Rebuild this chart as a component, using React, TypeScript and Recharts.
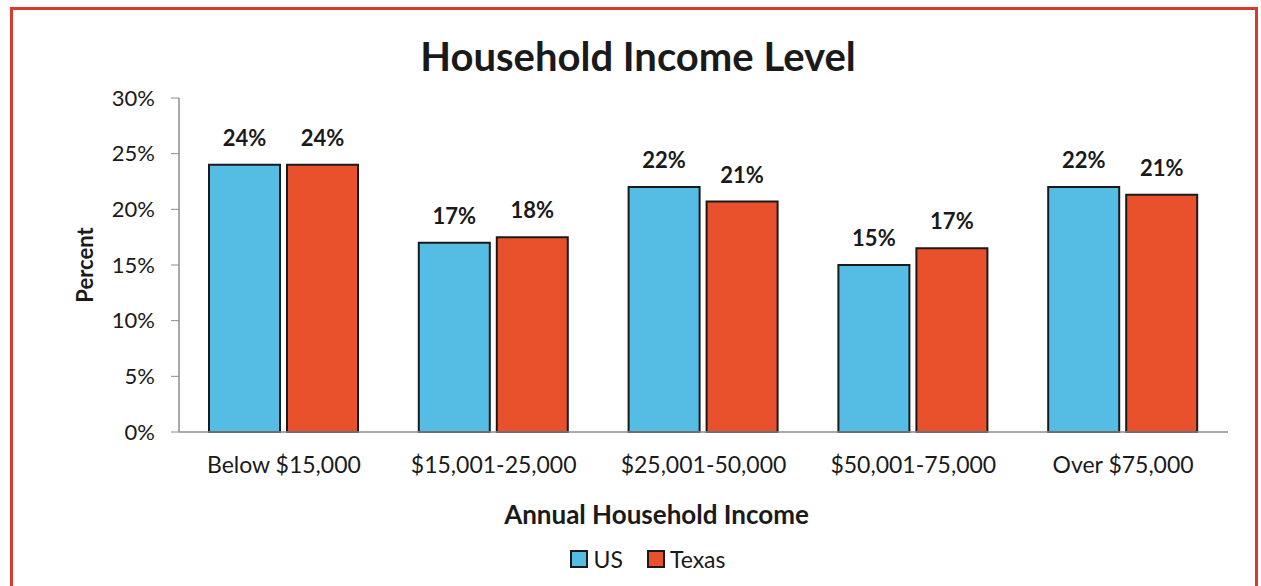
import { Bar, BarChart, LabelList, XAxis, YAxis } from 'recharts'

const categories = ['Below $15,000', '$15,001-25,000', '$25,001-50,000', '$50,001-75,000', 'Over $75,000']
const usValues = [24, 17, 22, 15, 22]
const texasValues = [24, 17.5, 20.7, 16.5, 21.3]
const yTicks = [0, 5, 10, 15, 20, 25, 30]

const US_COLOR = '#55bde4'
const TX_COLOR = '#e8512b'
const FONT = 'Lato, "Open Sans", sans-serif'

export default function App() {
  const data = categories.map((name, i) => ({
    name,
    US: usValues[i],
    Texas: texasValues[i],
  }))

  return (
    <div style={{ position: 'fixed', left: 0, top: 0, width: 1261, height: 586, background: '#fff', overflow: 'hidden', fontFamily: FONT }}>
      {/* red frame */}
      <div
        style={{
          position: 'absolute',
          left: 10,
          top: 7,
          width: 1242,
          height: 600,
          border: '3px solid #d93a2e',
        }}
      />
      <div
        style={{
          position: 'absolute',
          left: 0,
          width: 1276,
          top: 33,
          textAlign: 'center',
          fontSize: 40,
          fontWeight: 700,
          color: '#1a1a1a',
          lineHeight: '46px',
        }}
      >
        Household Income Level
      </div>

      <div style={{ position: 'absolute', left: 0, top: 0 }}>
        <BarChart
          width={1261}
          height={586}
          data={data}
          margin={{ top: 98, right: 33, left: 0, bottom: 0 }}
          barCategoryGap={30}
          barGap={7}
        >
          <XAxis
            dataKey="name"
            height={154}
            tickLine={false}
            axisLine={{ stroke: '#8c8c8c', strokeWidth: 1.5 }}
            tick={{ fontSize: 23, fill: '#1a1a1a', fontFamily: FONT }}
            tickMargin={19}
            interval={0}
            label={{
              value: 'Annual Household Income',
              position: 'center',
              dx: -47,
              dy: 6,
              style: { fontSize: 26, fontWeight: 700, fill: '#1a1a1a', fontFamily: FONT },
            }}
          />
          <YAxis
            width={179}
            domain={[0, 30]}
            ticks={yTicks}
            tickFormatter={(v: number) => `${v}%`}
            axisLine={{ stroke: '#8c8c8c', strokeWidth: 1.5 }}
            tickLine={{ stroke: '#8c8c8c' }}
            tickSize={8}
            tickMargin={16}
            tick={{ fontSize: 22, fill: '#1a1a1a', fontFamily: FONT }}
            label={{
              value: 'Percent',
              angle: -90,
              position: 'center',
              dx: -4,
              style: { fontSize: 22, fontWeight: 700, fill: '#1a1a1a', fontFamily: FONT, textAnchor: 'middle' },
            }}
          />
          <Bar dataKey="US" fill={US_COLOR} stroke="#1a1a1a" strokeWidth={2} isAnimationActive={false}>
            <LabelList
              dataKey="US"
              position="top"
              offset={19}
              formatter={(v: number) => `${Math.round(v)}%`}
              style={{ fontSize: 22, fontWeight: 700, fill: '#1a1a1a', fontFamily: FONT }}
            />
          </Bar>
          <Bar dataKey="Texas" fill={TX_COLOR} stroke="#1a1a1a" strokeWidth={2} isAnimationActive={false}>
            <LabelList
              dataKey="Texas"
              position="top"
              offset={19}
              formatter={(v: number) => `${Math.round(v)}%`}
              style={{ fontSize: 22, fontWeight: 700, fill: '#1a1a1a', fontFamily: FONT }}
            />
          </Bar>
        </BarChart>
      </div>

      {/* Legend */}
      <div
        style={{
          position: 'absolute',
          left: 0,
          width: 1296,
          top: 545,
          display: 'flex',
          justifyContent: 'center',
          alignItems: 'center',
          gap: 24,
          fontSize: 23,
          color: '#1a1a1a',
        }}
      >
        <div style={{ display: 'flex', alignItems: 'center', gap: 5 }}>
          <div style={{ width: 14, height: 14, background: US_COLOR, border: '2px solid #1a1a1a' }} />
          <span>US</span>
        </div>
        <div style={{ display: 'flex', alignItems: 'center', gap: 5 }}>
          <div style={{ width: 14, height: 14, background: TX_COLOR, border: '2px solid #1a1a1a' }} />
          <span>Texas</span>
        </div>
      </div>
    </div>
  )
}
